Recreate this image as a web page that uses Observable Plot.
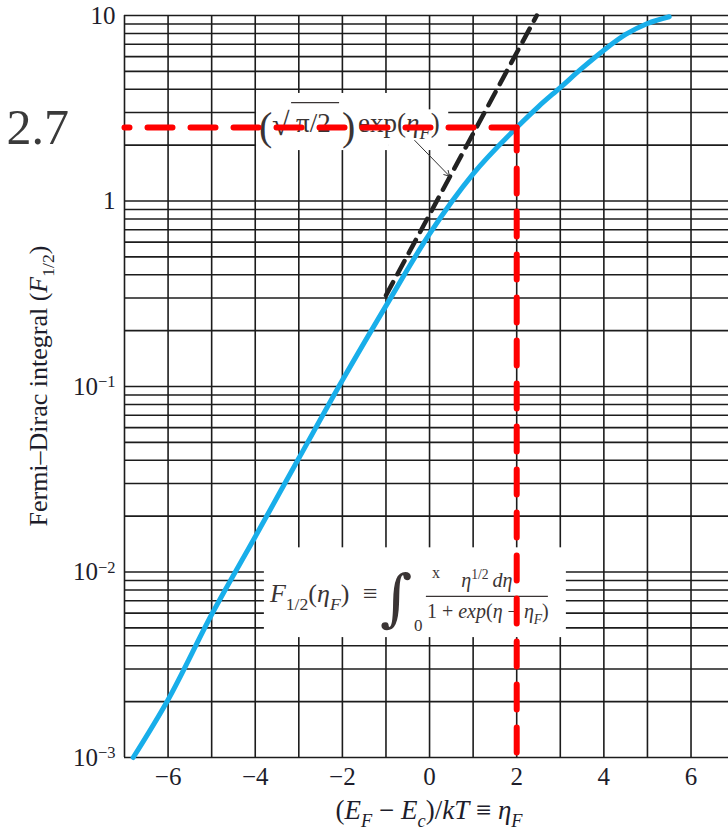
<!DOCTYPE html>
<html><head><meta charset="utf-8">
<script src="https://cdn.jsdelivr.net/npm/d3@7"></script>
<script src="https://cdn.jsdelivr.net/npm/@observablehq/plot@0.6"></script>
<style>
html,body{margin:0;padding:0;background:#fff;overflow:hidden}
#chart{width:728px;height:832px}
</style></head><body><div id="chart"></div>
<script>
// ---------- data ----------
const gridEta = [-7,-6,-5,-4,-3,-2,-1,0,1,2,3,4,5,6];
const gridF = [0.001,0.002,0.003,0.004,0.005,0.006,0.007,0.008,0.009,
  0.01,0.02,0.03,0.04,0.05,0.06,0.07,0.08,0.09,
  0.1,0.2,0.3,0.4,0.5,0.6,0.7,0.8,0.9,
  1,2,3,4,5,6,7,8,9,10];
const xTicks = [-6,-4,-2,0,2,4,6];
const xTickLabels = ["−6","−4","−2","0","2","4","6"];
const yTicks = [0.001,0.01,0.1,1,10];
const yTickLabels = ["10^−3","10^−2","10^−1","1","10"];

// F1/2 curve
const curveEta = [-6.8,-6,-5,-4,-3,-2,-1,0,1,2,2.5,3,3.5,4,4.5,5,5.5];
const curveF   = [0.001,0.00205,0.0059,0.0155,0.041,0.108,0.272,0.665,1.40,2.49,3.23,4.09,5.2,6.5,7.9,9.05,9.85];
// (sqrt(pi)/2) exp(eta) asymptote
const boltzEta = [-1.0, 2.46];
const boltzF   = [0.31, 10];
// read-off guide
const guideEta = 2;
const guideF = 2.49;
const guideLabel = "2.7";

// ---------- annotation anchors (data units) ----------
const whiteBoxes = [
  {x1:-3.97, x2:-0.92, y1:1.87, y2:3.8},
  {x1:-0.92, x2:0.44, y1:1.87, y2:3.1},
  {x1:-3.79, x2:3.14, y1:0.00443, y2:0.0135}
];
const arrowSeg = [{x1:-0.34, y1:2.12, x2:0.46, y2:1.36}];
const expLabelAnchor = {eta:-3.9, F:2.35};
const formulaAnchor = {eta:-3.79, F:0.0135};

const curve = curveEta.map((e,i)=>({eta:e, F:curveF[i]}));
const boltz = boltzEta.map((e,i)=>({eta:e, F:boltzF[i]}));
const guideH = [{eta:-7, F:guideF},{eta:guideEta, F:guideF}];
const guideV = [{eta:guideEta, F:guideF},{eta:guideEta, F:0.001}];

const W = 728, H = 832;
const serif = "'Liberation Serif','Times New Roman',serif";
const gridColor = "#1c1c1c";
const RED = "#ff0000";

const plot = Plot.plot({
  width: W, height: H,
  marginLeft: 124, marginRight: 0, marginTop: 15, marginBottom: 75,
  style: {fontFamily: serif, fontSize: "25px", color: "#1d1d2b", background: "#fff", overflow: "visible"},
  x: {domain: [-7, 6.86]},
  y: {type: "log", domain: [0.001, 10]},
  marks: [
    Plot.ruleX(gridEta, {stroke: gridColor, strokeWidth: 1.6}),
    Plot.ruleY(gridF, {stroke: gridColor, strokeWidth: 1.6}),
    Plot.rect(whiteBoxes, {x1:"x1", x2:"x2", y1:"y1", y2:"y2", fill:"white"}),
    Plot.axisX({ticks: xTicks, tickSize: 0, tickPadding: 10, fontSize: 25,
      tickFormat: d => xTickLabels[xTicks.indexOf(d)], label: null}),
    Plot.axisY({ticks: yTicks, tickSize: 0, tickPadding: 9, fontSize: 25,
      tickFormat: d => yTickLabels[yTicks.indexOf(d)], label: null}),
    Plot.line(curve, {x:"eta", y:"F", stroke:"#18aeea", strokeWidth:5, curve:"monotone-x"}),
    Plot.line(boltz, {x:"eta", y:"F", stroke:"#222", strokeWidth:4.5, strokeDasharray:"15,9"}),
    Plot.arrow(arrowSeg, {x1:"x1", y1:"y1", x2:"x2", y2:"y2", stroke:"#333", strokeWidth:1, headLength:9}),
    Plot.line(guideH, {x:"eta", y:"F", stroke:RED, strokeWidth:6, strokeDasharray:"25,18", strokeDashoffset:20}),
    Plot.line(guideV, {x:"eta", y:"F", stroke:RED, strokeWidth:6, strokeDasharray:"25,18", strokeDashoffset:2}),
    Plot.text([guideLabel], {x:-7, y:guideF, dx:-118, textAnchor:"start", fontSize:50, fill:"#3a3a3a", fontFamily: serif})
  ]
});
document.getElementById("chart").appendChild(plot);

const svg = d3.select(plot);
const xs = plot.scale("x"), ys = plot.scale("y");

// superscript tick labels
svg.selectAll('g[aria-label="y-axis tick label"] text').each(function(){
  const t = d3.select(this); const s = t.text();
  const m = s.match(/^10\^(.+)$/);
  if (m) { t.text("10"); t.append("tspan").attr("dy","-0.45em").attr("font-size","0.66em").text(m[1]); }
});

function rich(sel, parts, base){
  let shift = 0;
  parts.forEach(p=>{
    const target = p.sub ? 0.28 : p.sup ? -0.4 : 0;
    const ts = sel.append("tspan").text(p.t);
    if (p.it) ts.attr("font-style","italic");
    if (p.sub || p.sup) ts.attr("font-size", (base*0.68)+"px");
    const dy = (target - shift) * base;
    if (dy) ts.attr("dy", dy);
    shift = target;
  });
}

// axis titles
const xl = svg.append("text").attr("x", xs.apply(0)).attr("y", H - 13)
  .attr("text-anchor","middle").attr("font-size",27).attr("fill","#1d1d2b");
rich(xl, [{t:"("},{t:"E",it:1},{t:"F",it:1,sub:1},{t:" − "},{t:"E",it:1},{t:"c",it:1,sub:1},
  {t:")/"},{t:"kT",it:1},{t:" ≡ "},{t:"η",it:1},{t:"F",it:1,sub:1}], 27);

const frameMid = (15 + (H - 75)) / 2;
const yl = svg.append("text").attr("transform", `translate(47,${frameMid}) rotate(-90)`)
  .attr("text-anchor","middle").attr("font-size",26).attr("fill","#1d1d2b");
rich(yl, [{t:"Fermi–Dirac integral ("},{t:"F",it:1},{t:"1/2",sub:1},{t:")"}], 26);

// annotations (inserted below the red guides)
const before = [...plot.querySelectorAll("g")].find(g => g.getAttribute("stroke") === RED) || null;
const INK = "#3a3434";
function group(px, py){
  const g = document.createElementNS("http://www.w3.org/2000/svg","g");
  plot.insertBefore(g, before);
  return d3.select(g).attr("transform",`translate(${px},${py})`).attr("fill",INK)
    .attr("font-family",serif).attr("text-anchor","start");
}
function txt(g, x, y, fs, parts, o={}){
  const t = g.append("text").attr("x",x).attr("y",y).attr("font-size",fs)
    .attr("text-anchor", o.anchor || "start");
  if (o.ff) t.attr("font-family", o.ff);
  if (typeof parts === "string") { t.text(parts); if (o.it) t.attr("font-style","italic"); }
  else rich(t, parts, fs);
  return t;
}

// (sqrt(pi)/2) exp(eta_F)
const ge = group(xs.apply(expLabelAnchor.eta), ys.apply(expLabelAnchor.F));
txt(ge, 0, 8, 40, "(");
txt(ge, 13, 3, 32, "√");
ge.append("line").attr("x1",32).attr("x2",80).attr("y1",-29).attr("y2",-29).attr("stroke",INK).attr("stroke-width",1.4);
txt(ge, 37, 0, 27, "π/2");
txt(ge, 83, 8, 40, ")");
txt(ge, 99, 0, 27, [{t:"exp("},{t:"η",it:1},{t:"F",it:1,sub:1},{t:")"}]);

// integral definition
const gf = group(xs.apply(formulaAnchor.eta), ys.apply(formulaAnchor.F));
txt(gf, 6, 55, 26, [{t:"F",it:1},{t:"1/2",sub:1},{t:"("},{t:"η",it:1},{t:"F",it:1,sub:1},{t:")"}]);
txt(gf, 99, 55, 26, "≡");
txt(gf, 116, 72, 62, "∫", {ff:"'DejaVu Serif',serif"});
txt(gf, 168, 31, 16, "x");
txt(gf, 150, 84, 17, "0");
txt(gf, 223, 40, 20, [{t:"η",it:1},{t:"1/2",sup:1},{t:"\u2009d",it:1},{t:"η",it:1}], {anchor:"middle"});
gf.append("line").attr("x1",162).attr("x2",284).attr("y1",49).attr("y2",49).attr("stroke",INK).attr("stroke-width",1.2);
txt(gf, 224, 71, 20, [{t:"1 + "},{t:"exp",it:1},{t:"("},{t:"η",it:1},{t:" − "},{t:"η",it:1},{t:"F",it:1,sub:1},{t:")"}], {anchor:"middle"});
</script></body></html>
